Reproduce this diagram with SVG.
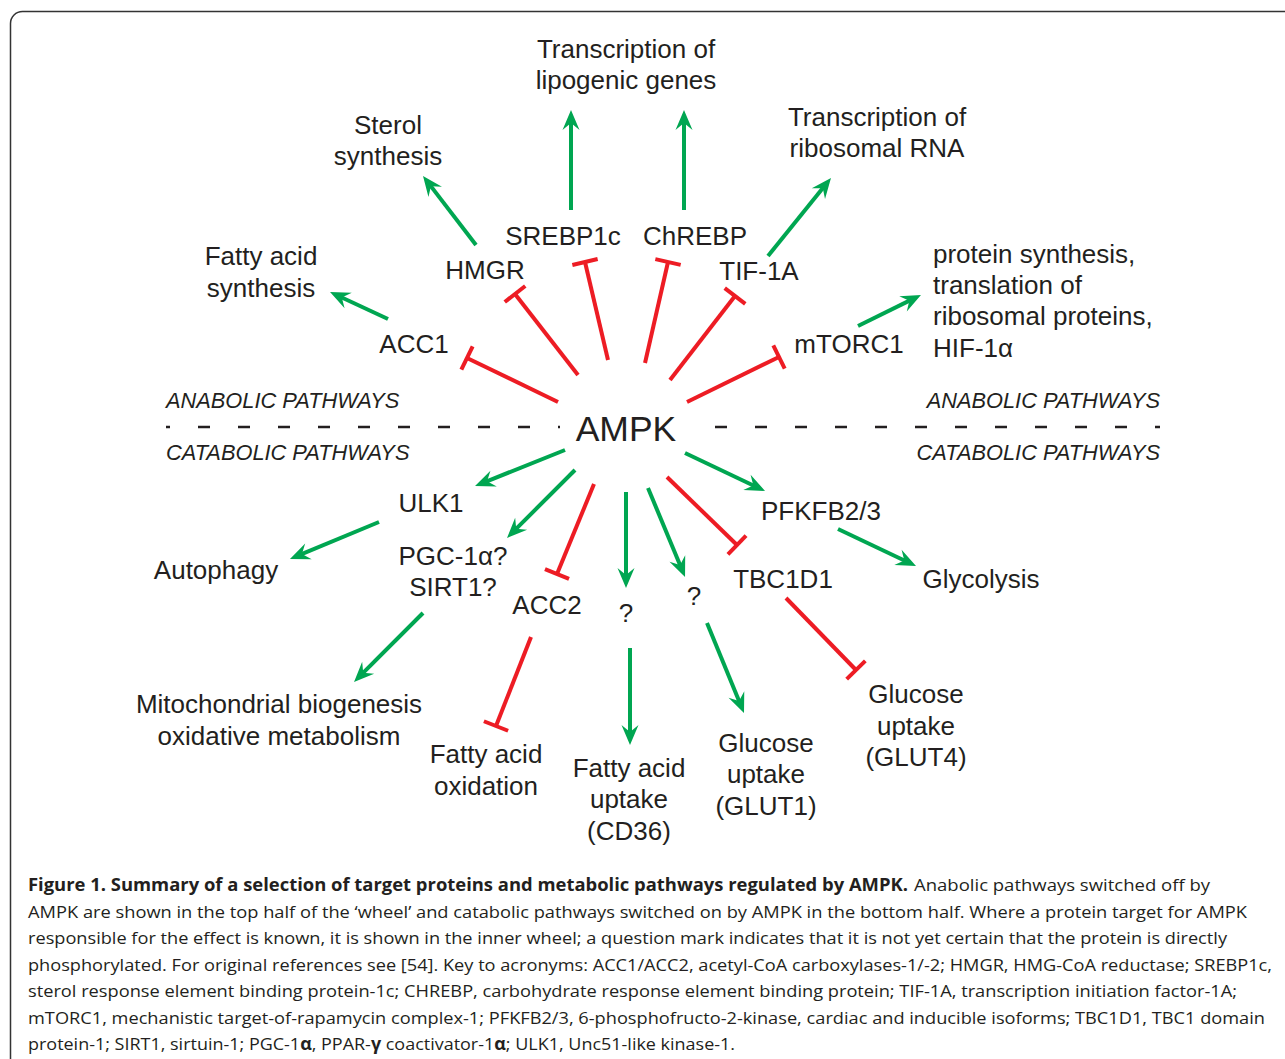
<svg xmlns="http://www.w3.org/2000/svg" width="1285" height="1059" viewBox="0 0 1285 1059">
<style>
.t{font-family:"Liberation Sans",Arial,sans-serif;font-size:26px;fill:#231f20;text-anchor:middle}
.l{text-anchor:start}
.it{font-family:"Liberation Sans",Arial,sans-serif;font-size:21.8px;font-style:italic;fill:#231f20}
.cap{font-family:"Open Sans","Noto Sans",sans-serif;font-size:17px;fill:#231f20}
.g{stroke:#00a651;stroke-width:4;fill:none;marker-end:url(#arr)}
.r{stroke:#ed1c24;stroke-width:4;fill:none;marker-end:url(#bar)}
</style>
<defs>
<marker id="arr" markerUnits="userSpaceOnUse" orient="auto" viewBox="-11 -10 23 20" refX="0" refY="0" markerWidth="23" markerHeight="20" overflow="visible">
<path d="M10,0 L-10,-8.5 L-3,0 L-10,8.5 Z" fill="#00a651"/>
</marker>
<marker id="bar" markerUnits="userSpaceOnUse" orient="auto" viewBox="-4 -14 8 28" refX="0" refY="0" markerWidth="8" markerHeight="28" overflow="visible">
<path d="M0,-13 V13" stroke="#ed1c24" stroke-width="4"/>
</marker>
</defs>
<rect x="10.5" y="11.5" width="1300" height="1100" rx="12" fill="none" stroke="#333" stroke-width="1.5"/>

<g id="divider">
<line x1="166" y1="427" x2="560" y2="427" stroke="#231f20" stroke-width="2.5" stroke-dasharray="12 28" stroke-dashoffset="8"/>
<line x1="715" y1="427" x2="1160" y2="427" stroke="#231f20" stroke-width="2.5" stroke-dasharray="12 28"/>
<text class="it" x="166" y="408">ANABOLIC PATHWAYS</text>
<text class="it" x="1160" y="408" text-anchor="end">ANABOLIC PATHWAYS</text>
<text class="it" x="166" y="460">CATABOLIC PATHWAYS</text>
<text class="it" x="1160" y="460" text-anchor="end">CATABOLIC PATHWAYS</text>
</g>

<g id="connectors">
<line class="g" x1="476" y1="245" x2="429.1" y2="183.9"/>
<line class="g" x1="571" y1="210" x2="571" y2="120"/>
<line class="g" x1="684" y1="210" x2="684" y2="120"/>
<line class="g" x1="768" y1="256" x2="824.7" y2="185.8"/>
<line class="g" x1="388" y1="319" x2="339.1" y2="296.2"/>
<line class="g" x1="858" y1="326" x2="912" y2="299.4"/>
<line class="g" x1="565" y1="450" x2="484.3" y2="482.3"/>
<line class="g" x1="575" y1="470" x2="514.1" y2="530.9"/>
<line class="g" x1="626" y1="492" x2="626" y2="578"/>
<line class="g" x1="648" y1="488" x2="681.2" y2="567.8"/>
<line class="g" x1="685" y1="453" x2="756" y2="486.7"/>
<line class="g" x1="379" y1="522" x2="299.2" y2="555.2"/>
<line class="g" x1="423" y1="613" x2="361.1" y2="674.9"/>
<line class="g" x1="630" y1="648" x2="630" y2="735"/>
<line class="g" x1="707" y1="623" x2="740.2" y2="703.8"/>
<line class="g" x1="838" y1="529" x2="907" y2="561.7"/>

<line class="r" x1="558" y1="402" x2="467" y2="358"/>
<line class="r" x1="578" y1="375" x2="515" y2="294"/>
<line class="r" x1="608" y1="360" x2="585" y2="262"/>
<line class="r" x1="645" y1="363" x2="668" y2="262"/>
<line class="r" x1="670" y1="380" x2="735" y2="296"/>
<line class="r" x1="687" y1="402" x2="779" y2="357"/>
<line class="r" x1="594" y1="484" x2="557" y2="574"/>
<line class="r" x1="667" y1="477" x2="737" y2="545"/>
<line class="r" x1="531" y1="637" x2="496" y2="726"/>
<line class="r" x1="786" y1="598" x2="856" y2="670"/>
</g>

<g id="ampk"><text class="t" x="626" y="441" style="font-size:35.5px">AMPK</text></g>
<g id="lipogenic"><text class="t" x="626" y="58">Transcription of</text><text class="t" x="626" y="89">lipogenic genes</text></g>
<g id="sterol"><text class="t" x="388" y="134">Sterol</text><text class="t" x="388" y="165">synthesis</text></g>
<g id="ribosomal"><text class="t" x="877" y="126">Transcription of</text><text class="t" x="877" y="157">ribosomal RNA</text></g>
<g id="fasynth"><text class="t" x="261" y="265">Fatty acid</text><text class="t" x="261" y="297">synthesis</text></g>
<g id="hmgr"><text class="t" x="485" y="279">HMGR</text></g>
<g id="srebp"><text class="t" x="563" y="245">SREBP1c</text></g>
<g id="chrebp"><text class="t" x="695" y="245">ChREBP</text></g>
<g id="tif"><text class="t" x="759" y="280">TIF-1A</text></g>
<g id="acc1"><text class="t" x="414" y="353">ACC1</text></g>
<g id="mtorc1"><text class="t" x="849" y="353">mTORC1</text></g>
<g id="protein"><text class="t l" x="933" y="263">protein synthesis,</text><text class="t l" x="933" y="294">translation of</text><text class="t l" x="933" y="325">ribosomal proteins,</text><text class="t l" x="933" y="357">HIF-1α</text></g>
<g id="ulk1"><text class="t" x="431" y="512">ULK1</text></g>
<g id="pgc"><text class="t" x="453" y="565">PGC-1α?</text><text class="t" x="453" y="596">SIRT1?</text></g>
<g id="autophagy"><text class="t" x="216" y="579">Autophagy</text></g>
<g id="acc2"><text class="t" x="547" y="614">ACC2</text></g>
<g id="q1"><text class="t" x="626" y="622">?</text></g>
<g id="q2"><text class="t" x="694" y="605">?</text></g>
<g id="pfkfb"><text class="t" x="821" y="520">PFKFB2/3</text></g>
<g id="tbc1d1"><text class="t" x="783" y="588">TBC1D1</text></g>
<g id="glycolysis"><text class="t" x="981" y="588">Glycolysis</text></g>
<g id="mito"><text class="t" x="279" y="713">Mitochondrial biogenesis</text><text class="t" x="279" y="745">oxidative metabolism</text></g>
<g id="fao"><text class="t" x="486" y="763">Fatty acid</text><text class="t" x="486" y="795">oxidation</text></g>
<g id="fau"><text class="t" x="629" y="777">Fatty acid</text><text class="t" x="629" y="808">uptake</text><text class="t" x="629" y="840">(CD36)</text></g>
<g id="glut1"><text class="t" x="766" y="752">Glucose</text><text class="t" x="766" y="783">uptake</text><text class="t" x="766" y="815">(GLUT1)</text></g>
<g id="glut4"><text class="t" x="916" y="703">Glucose</text><text class="t" x="916" y="735">uptake</text><text class="t" x="916" y="766">(GLUT4)</text></g>

<g id="caption">
<text class="cap" x="28" y="891" font-weight="bold" textLength="880" lengthAdjust="spacingAndGlyphs">Figure 1. Summary of a selection of target proteins and metabolic pathways regulated by AMPK.</text>
<text class="cap" x="914" y="891" textLength="296" lengthAdjust="spacingAndGlyphs">Anabolic pathways switched off by</text>
<text class="cap" x="28" y="918" textLength="1219" lengthAdjust="spacingAndGlyphs">AMPK are shown in the top half of the ‘wheel’ and catabolic pathways switched on by AMPK in the bottom half. Where a protein target for AMPK</text>
<text class="cap" x="28" y="944" textLength="1199" lengthAdjust="spacingAndGlyphs">responsible for the effect is known, it is shown in the inner wheel; a question mark indicates that it is not yet certain that the protein is directly</text>
<text class="cap" x="28" y="971" textLength="1244" lengthAdjust="spacingAndGlyphs">phosphorylated. For original references see [54]. Key to acronyms: ACC1/ACC2, acetyl-CoA carboxylases-1/-2; HMGR, HMG-CoA reductase; SREBP1c,</text>
<text class="cap" x="28" y="997" textLength="1209" lengthAdjust="spacingAndGlyphs">sterol response element binding protein-1c; CHREBP, carbohydrate response element binding protein; TIF-1A, transcription initiation factor-1A;</text>
<text class="cap" x="28" y="1024" textLength="1237" lengthAdjust="spacingAndGlyphs">mTORC1, mechanistic target-of-rapamycin complex-1; PFKFB2/3, 6-phosphofructo-2-kinase, cardiac and inducible isoforms; TBC1D1, TBC1 domain</text>
<text class="cap" x="28" y="1050" textLength="707" lengthAdjust="spacingAndGlyphs">protein-1; SIRT1, sirtuin-1; PGC-1<tspan font-weight="bold">α</tspan>, PPAR-<tspan font-weight="bold">γ</tspan> coactivator-1<tspan font-weight="bold">α</tspan>; ULK1, Unc51-like kinase-1.</text>
</g>
</svg>
